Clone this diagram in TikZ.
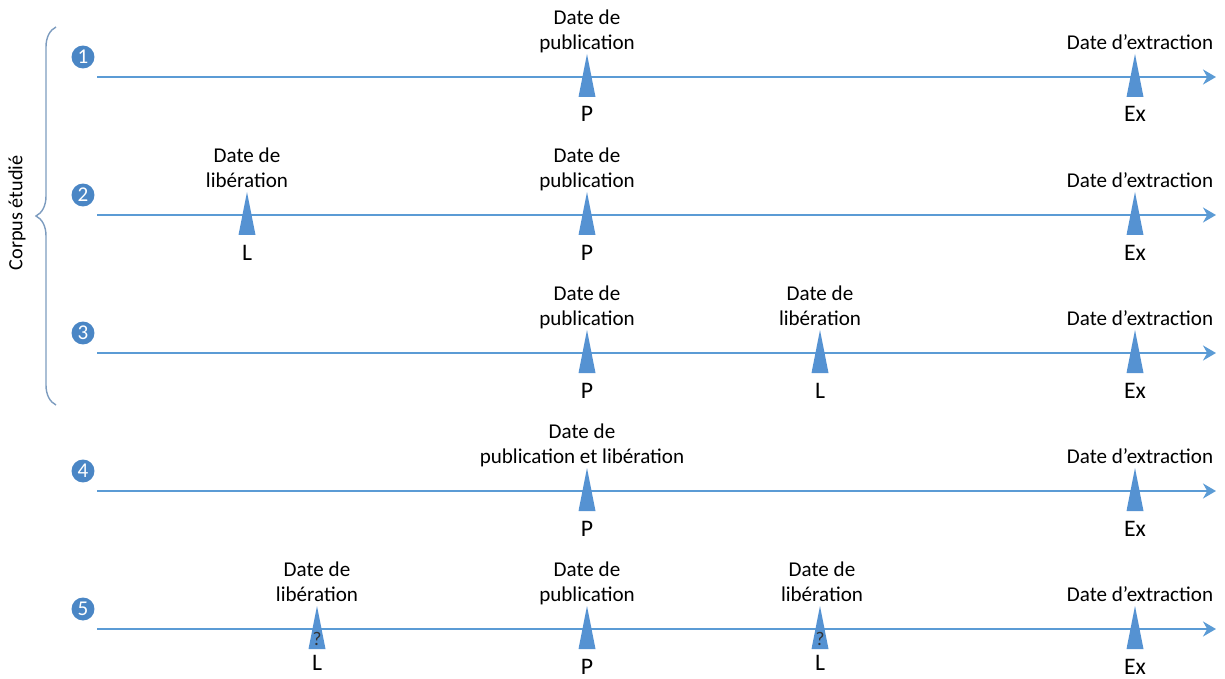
\documentclass[tikz,border=0pt]{standalone}
\usepackage{fontspec}
\setmainfont{Carlito}
\usepackage{xcolor}
\usetikzlibrary{arrows.meta}
\usetikzlibrary{decorations.pathreplacing}

\definecolor{axeblue}{HTML}{5B9BD5}
\definecolor{repblue}{HTML}{5592D2}
\definecolor{numblue}{HTML}{4A86C5}
\definecolor{accolade}{HTML}{7D9CBF}

\newcommand{\lbl}{\fontsize{12}{14.2}\selectfont}
\newcommand{\repere}[2]{\fill[repblue] (#1-8.5,#2+20) -- (#1,#2-23) -- (#1+8.5,#2+20) -- cycle;}

\begin{document}
\begin{tikzpicture}[x=0.02cm,y=-0.02cm,
  axe/.style={draw=axeblue, line width=1.4pt, -{Stealth[length=2.6mm,width=3mm]}},
  num/.style={circle, fill=numblue, text=white, inner sep=0pt, minimum size=0.46cm, font=\fontsize{12}{13}\selectfont},
  lab/.style={anchor=south, inner sep=0pt, align=center, font=\lbl},
  lettre/.style={anchor=base, inner sep=0pt, font=\fontsize{13.5}{15}\selectfont},
  ques/.style={anchor=base, inner sep=0pt, font=\fontsize{11}{12}\selectfont, text=black!80}]
  \useasboundingbox (0,0) rectangle (1225,679);

  % axes
  \foreach \n/\y in {1/77,2/215,3/353,4/491,5/629} {
    \coordinate (s\n) at (97,\y);
    \coordinate (e\n) at (1216,\y);
    \draw[axe] (s\n) -- (e\n);
    \node[num] (c\n) at (83,\y-20) {\n};
    \repere{587}{\y}
    \repere{1135}{\y}
    \node[lab] (dex\n) at (1140,\y-20) {Date d’extraction\strut};
    \node[lettre] (ex\n) at (1135,\y+45) {Ex};
    \node[lettre] (p\n) at (587,\y+45) {P};
  }

  % etiquettes de publication
  \node[lab] (dp1) at (587,57) {Date de\\publication\strut};
  \node[lab] (dp2) at (587,195) {Date de\\publication\strut};
  \node[lab] (dp3) at (587,333) {Date de\\publication\strut};
  \node[lab] (dp4) at (582,471) {Date de\\publication et libération\strut};
  \node[lab] (dp5) at (587,609) {Date de\\publication\strut};

  % liberation
  \repere{247}{215}
  \node[lab] (dl2) at (247,195) {Date de\\libération\strut};
  \node[lettre] (l2) at (247,260) {L};

  \repere{820}{353}
  \node[lab] (dl3) at (820,333) {Date de\\libération\strut};
  \node[lettre] (l3) at (820,398) {L};

  \repere{317}{629}
  \node[lab] (dl5a) at (317,609) {Date de\\libération\strut};
  \node[ques] (q5a) at (317,645) {?};
  \node[lettre] (l5a) at (317,670) {L};

  \repere{820}{629}
  \node[lab] (dl5b) at (822,609) {Date de\\libération\strut};
  \node[ques] (q5b) at (820,645) {?};
  \node[lettre] (l5b) at (820,670) {L};

  % corpus
  \draw[accolade, line width=0.8pt, decorate, decoration={brace, amplitude=0.4cm, aspect=0.5}]
    (56,405) -- (56,27);
  \node[rotate=90, font=\fontsize{11.5}{12}\selectfont] (corpus) at (17,213) {Corpus étudié};
\end{tikzpicture}
\end{document}
